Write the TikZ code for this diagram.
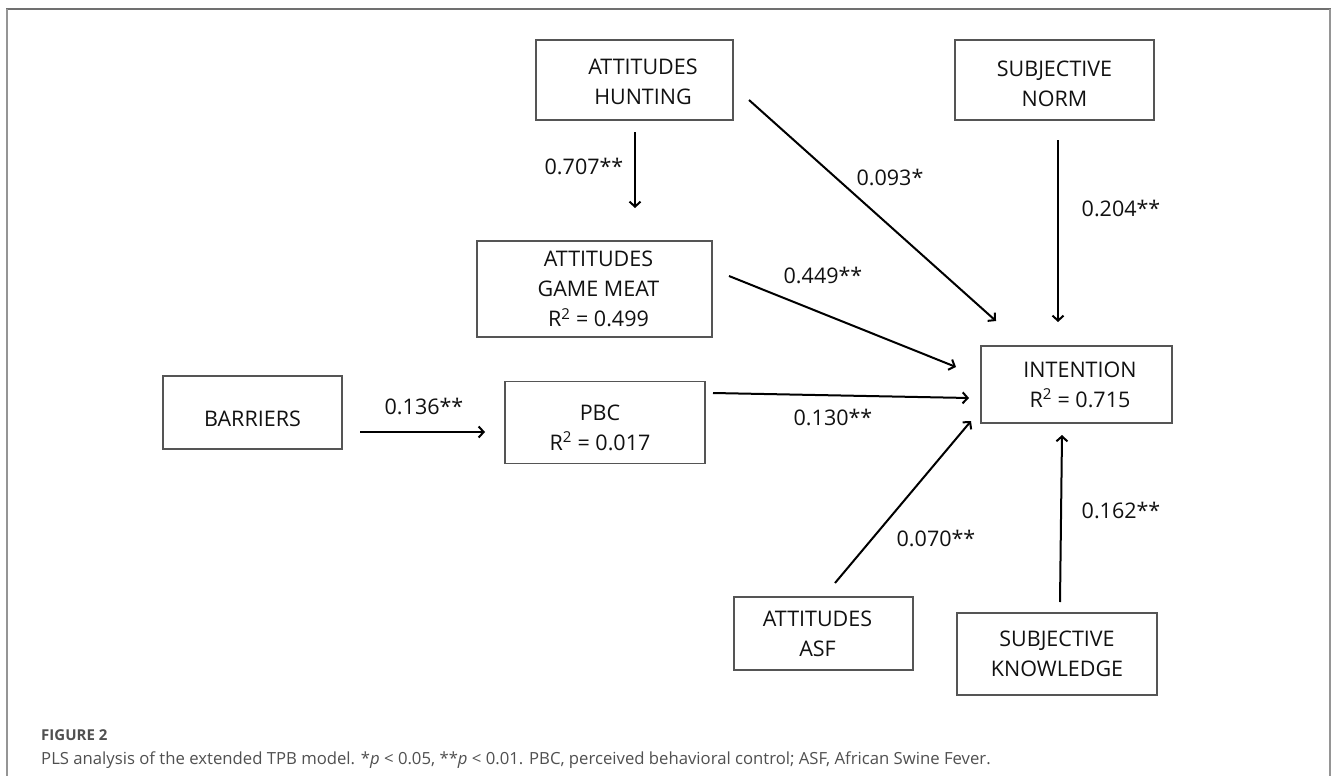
\documentclass[tikz,border=0pt]{standalone}
\usepackage{fontspec}
\setmainfont{Open Sans}
\usetikzlibrary{arrows.meta}
\definecolor{boxgray}{HTML}{555555}
\definecolor{txtgray}{HTML}{111111}
\definecolor{capgray}{HTML}{505050}
\definecolor{frametop}{HTML}{707070}
\definecolor{frameside}{HTML}{959595}
\begin{document}
\begin{tikzpicture}[x=1pt,y=-1pt,
  box/.style={draw=boxgray, line width=1.4pt, inner sep=0pt},
  boxtxt/.style={inner sep=0pt, align=center, text=txtgray, font=\fontsize{21.5}{30}\selectfont},
  lbl/.style={inner sep=0pt, text=txtgray, font=\fontsize{21.5}{26}\selectfont},
  arr/.style={line width=2pt, black, -{Straight Barb[length=5pt,width=11pt]}}]
\useasboundingbox (0,0) rectangle (1331,776);
\fill[white] (0,0) rectangle (1331,776);
% frame
\draw[frametop, line width=2pt] (6,9) -- (1331,9);
\draw[frameside, line width=2pt] (7,9) -- (7,776);
\draw[frameside, line width=2pt] (1330,9) -- (1330,776);
% boxes (text as centred labels, shifted as in the reference)
\node[box, minimum width=197pt, minimum height=80pt,
  label={[boxtxt, xshift=8.5pt, yshift=-2pt]center:ATTITUDES\\HUNTING}] (hunt) at (634.5,80) {};
\node[box, minimum width=199pt, minimum height=80pt,
  label={[boxtxt, yshift=-3.5pt]center:SUBJECTIVE\\NORM}] (norm) at (1054.5,80) {};
\node[box, minimum width=235pt, minimum height=96pt,
  label={[boxtxt, xshift=4pt]center:ATTITUDES\\GAME MEAT\\R\textsuperscript{2} = 0.499}] (meat) at (594.5,289) {};
\node[box, minimum width=179pt, minimum height=73pt,
  label={[boxtxt, yshift=-6.5pt]center:BARRIERS}] (barr) at (252.5,412.5) {};
\node[box, minimum width=200pt, minimum height=82pt,
  label={[boxtxt, xshift=-5pt, yshift=-5pt]center:PBC\\R\textsuperscript{2} = 0.017}] (pbc) at (605,422.5) {};
\node[box, minimum width=191pt, minimum height=77pt,
  label={[boxtxt, xshift=3.5pt]center:INTENTION\\R\textsuperscript{2} = 0.715}] (intent) at (1076.5,384.5) {};
\node[box, minimum width=179pt, minimum height=73pt,
  label={[boxtxt, xshift=-6pt]center:ATTITUDES\\ASF}] (asf) at (823.5,633.5) {};
\node[box, minimum width=200pt, minimum height=82pt,
  label={[boxtxt]center:SUBJECTIVE\\KNOWLEDGE}] (know) at (1057,654) {};
% connector end points
\coordinate (a1) at (635,132);  \coordinate (b1) at (635,208);
\coordinate (a2) at (749,100);  \coordinate (b2) at (996,321);
\coordinate (a3) at (1058,140); \coordinate (b3) at (1058,322);
\coordinate (a4) at (729,276);  \coordinate (b4) at (956,367);
\coordinate (a5) at (360,432);  \coordinate (b5) at (485,432);
\coordinate (a6) at (713,393);  \coordinate (b6) at (969,398);
\coordinate (a7) at (835,583);  \coordinate (b7) at (971,421);
\coordinate (a8) at (1060,602); \coordinate (b8) at (1062,435);
\draw[arr] (a1) -- (b1);
\draw[arr] (a2) -- (b2);
\draw[arr] (a3) -- (b3);
\draw[arr] (a4) -- (b4);
\draw[arr] (a5) -- (b5);
\draw[arr] (a6) -- (b6);
\draw[arr] (a7) -- (b7);
\draw[arr] (a8) -- (b8);
% labels
\node[lbl] (l1) at (584,166) {0.707**};
\node[lbl] (l2) at (890,177) {0.093*};
\node[lbl] (l3) at (1121,208) {0.204**};
\node[lbl] (l4) at (823,275) {0.449**};
\node[lbl] (l5) at (424,406) {0.136**};
\node[lbl] (l6) at (833,417) {0.130**};
\node[lbl] (l7) at (936,538) {0.070**};
\node[lbl] (l8) at (1121,510) {0.162**};
% caption
\node[anchor=base west, inner sep=0pt, text=capgray, font=\fontsize{15}{18}\selectfont\bfseries] (fig) at (41,740) {FIGURE 2};
\node[anchor=base west, inner sep=0pt, text=capgray, font=\fontsize{16.7}{20}\selectfont] (cap) at (41,764) {PLS analysis of the extended TPB model. *\textit{p} < 0.05, **\textit{p} < 0.01. PBC, perceived behavioral control; ASF, African Swine Fever.};
\end{tikzpicture}
\end{document}
